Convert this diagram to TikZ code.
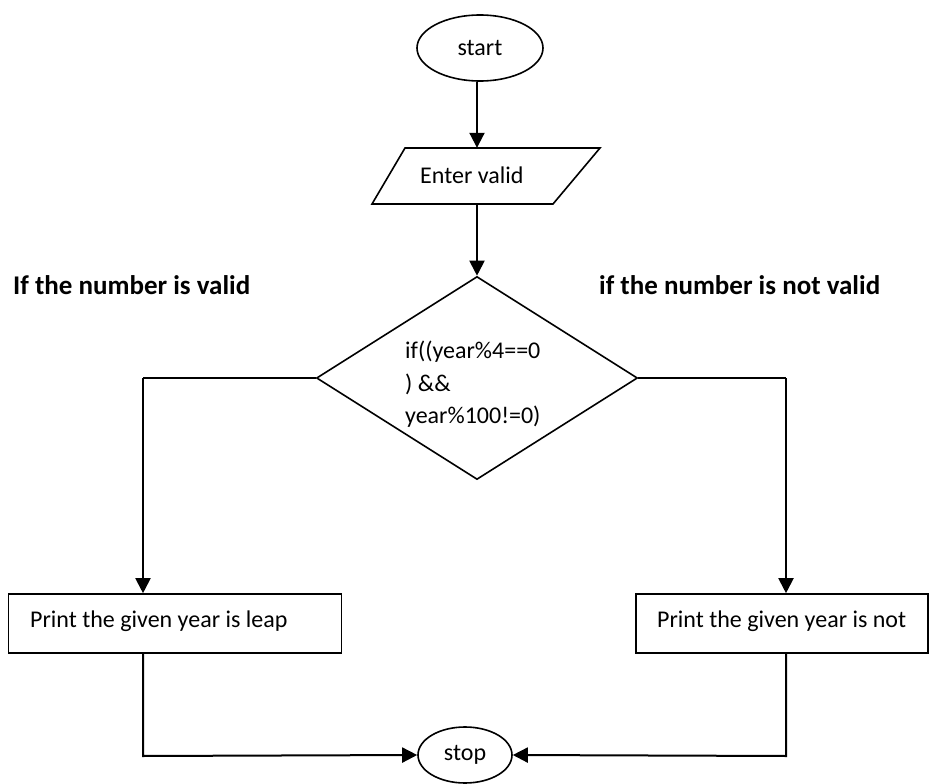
\documentclass[tikz,border=0pt]{standalone}
\usepackage{fontspec}
\setmainfont{Carlito}
\usetikzlibrary{shapes.geometric,arrows.meta}
\begin{document}
\begin{tikzpicture}[x=1pt,y=-1pt,
  every node/.style={font=\fontsize{24}{32.5}\selectfont},
  shape line/.style={draw=black,line width=1.6pt},
  terminal/.style={shape line,ellipse,inner sep=0pt},
  procbox/.style={shape line,rectangle,inner sep=0pt},
  txt/.style={inner sep=0pt,anchor=west},
  flow/.style={line width=2pt,-{Triangle[length=15pt,width=15pt]}},
  plain/.style={line width=2pt},
  lbl/.style={inner sep=0pt,anchor=west,font=\fontsize{27}{30}\selectfont\bfseries}]
\useasboundingbox (0,0) rectangle (930,784);

% terminals
\node[terminal,minimum width=126pt,minimum height=66pt] (start) at (480,48) {start};
\node[terminal,minimum width=94pt,minimum height=56pt] (stop) at (465,755) {stop};

% input parallelogram: outline drawn from its corners, an invisible box carries the name
\coordinate (inTL) at (405,148);
\coordinate (inTR) at (600,148);
\coordinate (inBR) at (553,204);
\coordinate (inBL) at (372,204);
\draw[shape line,line join=miter] (inTL) -- (inTR) -- (inBR) -- (inBL) -- cycle;
\node[inner sep=0pt,minimum width=228pt,minimum height=56pt] (in) at (486,176) {};
\node[txt] (intxt) at (420,175) {Enter valid};

% decision
\node[shape line,diamond,minimum width=321pt,minimum height=203pt,inner sep=0pt] (dec) at (477,378) {};
\node[inner sep=0pt,anchor=north west,align=left] (cond) at (405,341) {if((year\%4==0\\) \&\&\\year\%100!=0)};

% outputs
\node[procbox,minimum width=333pt,minimum height=59pt] (leap) at (175,623.5) {};
\node[txt] (leaptxt) at (30,621) {Print the given year is leap};
\node[procbox,minimum width=292pt,minimum height=59pt] (notleap) at (782,623.5) {};
\node[txt] (notleaptxt) at (657,621) {Print the given year is not};

% branch captions
\node[lbl] (yes) at (13,285) {If the number is valid};
\node[lbl] (no) at (599,285) {if the number is not valid};

% connectors
\draw[flow] (start.south -| 477,0) -- (477,0 |- in.north);
\draw[flow] (in.south -| 477,0) -- (dec.north);
\draw[plain] (dec.west) -- (143,378);
\draw[flow] (143,378) -- (143,0 |- leap.north);
\draw[plain] (dec.east) -- (786,378);
\draw[flow] (786,378) -- (786,0 |- notleap.north);
\draw[flow] (143,0 |- leap.south) -- (143,756) -- (stop.west);
\draw[flow] (786,0 |- notleap.south) -- (786,756) -- (stop.east);
\end{tikzpicture}
\end{document}
